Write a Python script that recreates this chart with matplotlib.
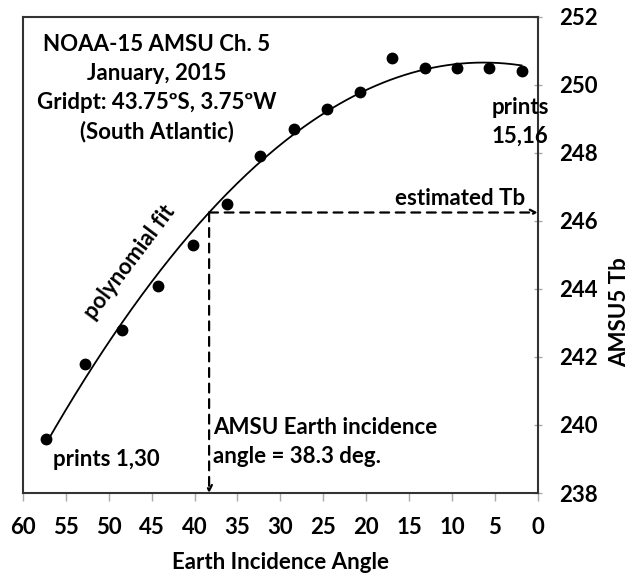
import numpy as np
import matplotlib
matplotlib.use("Agg")
import matplotlib.pyplot as plt

plt.rcParams['font.family'] = ['Lato', 'DejaVu Sans']
plt.rcParams['font.weight'] = 'bold'
plt.rcParams['axes.labelweight'] = 'bold'

# Earth incidence angle (deg) and AMSU ch.5 brightness temperature (K)
angle = [57.3, 52.8, 48.4, 44.2, 40.2, 36.2, 32.4, 28.4, 24.6, 20.7, 17.0, 13.2, 9.4, 5.7, 1.9]
tb = [239.6, 241.8, 242.8, 244.1, 245.3, 246.5, 247.9, 248.7, 249.3, 249.8, 250.8, 250.5, 250.5, 250.5, 250.4]
eia = 38.3
xticks = [60, 55, 50, 45, 40, 35, 30, 25, 20, 15, 10, 5, 0]
yticks = [238, 240, 242, 244, 246, 248, 250, 252]

coef = np.polyfit(angle, tb, 2)
xs = np.linspace(max(angle), min(angle), 200)
tb_est = np.polyval(coef, eia)

fig = plt.figure(figsize=(6.35, 5.78), dpi=100)
ax = fig.add_axes([0.036, 0.147, 0.811, 0.824])

ax.plot(xs, np.polyval(coef, xs), color='black', lw=1.3)
ax.plot(angle, tb, 'o', color='black', ms=7.5)

# dashed guide arrows
arrow = dict(arrowstyle='->', color='black', lw=1.6, linestyle=(0, (4, 3)), shrinkA=0, shrinkB=0)
ax.annotate('', xy=(eia, 238), xytext=(eia, tb_est), arrowprops=arrow)
ax.annotate('', xy=(0, tb_est), xytext=(eia, tb_est), arrowprops=arrow)

ax.set_xlim(60, 0)
ax.set_ylim(238, 252)
ax.set_xticks(xticks, labels=[str(v) for v in xticks], fontweight='bold')
ax.set_yticks(yticks, labels=[str(v) for v in yticks], fontweight='bold')
ax.yaxis.tick_right()
ax.yaxis.set_label_position('right')
ax.tick_params(axis='both', labelsize=16, colors='#aaaaaa', labelcolor='black', length=6, width=1)
ax.tick_params(axis='y', direction='inout', pad=12)
ax.tick_params(axis='x', direction='out', pad=11)
for s in ax.spines.values():
    s.set_color('#333333')
    s.set_linewidth(1.5)

ax.set_xlabel('Earth Incidence Angle', fontsize=16, labelpad=10)
ax.set_ylabel('AMSU5 Tb', fontsize=16, va='center')
ax.yaxis.set_label_coords(1.158, 0.38)

ax.text(44.4, 249.9, 'NOAA-15 AMSU Ch. 5\nJanuary, 2015\nGridpt: 43.75\u00baS, 3.75\u00baW\n(South Atlantic)',
        ha='center', va='center', fontsize=16, linespacing=1.45)
ax.text(47.6, 244.8, 'polynomial fit', rotation=53, ha='center', va='center', fontsize=16)
ax.text(56.5, 239.0, 'prints 1,30', ha='left', va='center', fontsize=16)
ax.text(5.4, 248.9, 'prints\n15,16', ha='left', va='center', fontsize=16, linespacing=1.45)
ax.text(1.5, 246.65, 'estimated Tb', ha='right', va='center', fontsize=16)
ax.text(37.8, 239.5, 'AMSU Earth incidence\nangle = 38.3 deg.', ha='left', va='center',
        fontsize=16, linespacing=1.45)

fig.savefig('out.png', dpi=100)
